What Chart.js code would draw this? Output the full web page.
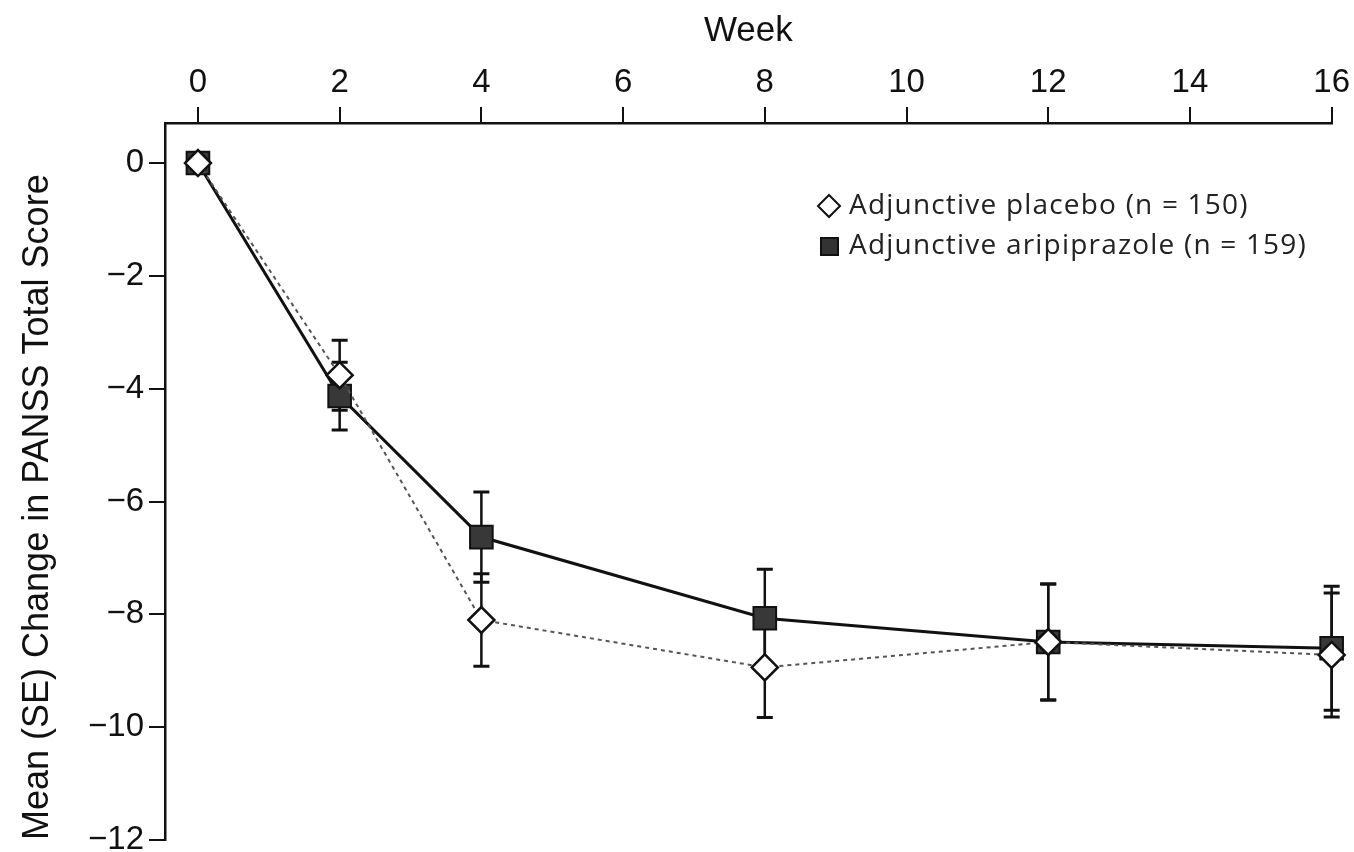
<!DOCTYPE html>
<html>
<head>
<meta charset="utf-8">
<title>PANSS</title>
<script src="https://cdn.jsdelivr.net/npm/chart.js@4"></script>
<style>
    html, body { margin: 0; padding: 0; background: #fff; }
    #box { position: relative; width: 1354px; height: 852px; }
</style>
</head>
<body>
<div id="box"><canvas id="grafico" width="1354" height="852"></canvas></div>
<script>
// dati
var settimane = [0, 2, 4, 8, 12, 16];
var placebo = [0, -3.76, -8.1, -8.94, -8.49, -8.72];
var placeboSE = [0, 0.62, 0.82, 0.89, 1.03, 1.1];
var aripiprazolo = [0, -4.13, -6.63, -8.07, -8.49, -8.6];
var aripiprazoloSE = [0, 0.6, 0.8, 0.87, 1.03, 1.1];

var tickSettimane = [0, 2, 4, 6, 8, 10, 12, 14, 16];
var tickPunteggio = [0, -2, -4, -6, -8, -10, -12];
var etichette = ['Adjunctive placebo (n = 150)', 'Adjunctive aripiprazole (n = 159)'];

function punti(valori) {
    var out = [];
    for (var i = 0; i < settimane.length; i++) {
        out.push({ x: settimane[i], y: valori[i] });
    }
    return out;
}

// barre di errore (SE), disegnate prima dei punti
var barreErrore = {
    id: 'barreErrore',
    beforeDatasetsDraw: function (chart) {
        var ctx = chart.ctx;
        var sx = chart.scales.x;
        var sy = chart.scales.y;
        var serie = [[aripiprazolo, aripiprazoloSE], [placebo, placeboSE]];
        ctx.save();
        ctx.strokeStyle = '#111';
        for (var s = 0; s < serie.length; s++) {
            var val = serie[s][0];
            var se = serie[s][1];
            for (var i = 0; i < settimane.length; i++) {
                if (!se[i]) continue;
                var px = sx.getPixelForValue(settimane[i]);
                var top = sy.getPixelForValue(val[i] + se[i]);
                var bot = sy.getPixelForValue(val[i] - se[i]);
                ctx.lineWidth = 2.5;
                ctx.beginPath();
                ctx.moveTo(px, top);
                ctx.lineTo(px, bot);
                ctx.stroke();
                ctx.lineWidth = 3;
                ctx.beginPath();
                ctx.moveTo(px - 8, top);
                ctx.lineTo(px + 8, top);
                ctx.moveTo(px - 8, bot);
                ctx.lineTo(px + 8, bot);
                ctx.stroke();
            }
        }
        ctx.restore();
    }
};

// legenda dentro l'area del grafico
var legenda = {
    id: 'legenda',
    afterDraw: function (chart) {
        var ctx = chart.ctx;
        ctx.save();
        ctx.strokeStyle = '#111';
        ctx.lineWidth = 2;
        ctx.fillStyle = '#fff';
        ctx.beginPath();
        ctx.moveTo(829, 195);
        ctx.lineTo(840, 206);
        ctx.lineTo(829, 217);
        ctx.lineTo(818, 206);
        ctx.closePath();
        ctx.fill();
        ctx.stroke();
        ctx.fillStyle = '#333';
        ctx.fillRect(821, 238, 17, 17);
        ctx.strokeRect(821, 238, 17, 17);
        ctx.fillStyle = '#222';
        ctx.font = '28px "Open Sans"';
        ctx.letterSpacing = '1.2px';
        ctx.textBaseline = 'middle';
        ctx.fillText(etichette[0], 849, 206);
        ctx.fillText(etichette[1], 849, 246);
        ctx.restore();
    }
};

var ctx = document.getElementById('grafico');
var chart = new Chart(ctx, {
    type: 'line',
    data: {
        datasets: [{
            label: etichette[0],
            data: punti(placebo),
            borderColor: '#555',
            borderWidth: 2,
            borderDash: [4, 4],
            pointStyle: 'rectRot',
            pointRadius: 13,
            pointBackgroundColor: '#fff',
            pointBorderColor: '#111',
            pointBorderWidth: 2.5,
            clip: false
        }, {
            label: etichette[1],
            data: punti(aripiprazolo),
            borderColor: '#111',
            borderWidth: 3,
            pointStyle: 'rect',
            pointRadius: 16,
            pointBackgroundColor: '#383838',
            pointBorderColor: '#111',
            pointBorderWidth: 2,
            clip: false
        }]
    },
    options: {
        responsive: false,
        animation: false,
        devicePixelRatio: 1,
        layout: { autoPadding: false, padding: { right: 21, bottom: 12 } },
        plugins: {
            legend: { display: false },
            tooltip: { enabled: false }
        },
        scales: {
            x: {
                type: 'linear',
                position: 'top',
                min: -0.465,
                max: 16,
                afterBuildTicks: function (s) {
                    s.ticks = tickSettimane.map(function (v) { return { value: v }; });
                },
                afterFit: function (s) { s.height = 123; },
                grid: { drawOnChartArea: false, drawTicks: true, tickLength: 16, color: '#111', lineWidth: 2 },
                border: { color: '#111', width: 2.5 },
                ticks: { color: '#111', padding: 4, maxRotation: 0, font: { family: 'Liberation Sans', size: 33 } },
                title: {
                    display: true,
                    text: 'Week',
                    color: '#111',
                    font: { family: 'Liberation Sans', size: 35 },
                    padding: { top: 10, bottom: 0 }
                }
            },
            y: {
                min: -12,
                max: 0.71,
                afterBuildTicks: function (s) {
                    s.ticks = tickPunteggio.map(function (v) { return { value: v }; });
                },
                afterFit: function (s) {
                    s.width = 165;
                    s.paddingTop = 0;
                    s.paddingBottom = 0;
                },
                grid: { drawOnChartArea: false, drawTicks: true, tickLength: 16, color: '#111', lineWidth: 2 },
                border: { color: '#111', width: 2.5 },
                ticks: {
                    color: '#111',
                    padding: 5,
                    font: { family: 'Liberation Sans', size: 33 },
                    callback: function (v) { return v < 0 ? '\u2212' + Math.abs(v) : '' + v; }
                },
                title: {
                    display: true,
                    align: 'start',
                    text: 'Mean (SE) Change in PANSS Total Score',
                    color: '#111',
                    font: { family: 'Liberation Sans', size: 36 },
                    padding: { top: 16, bottom: 0 }
                }
            }
        }
    },
    plugins: [barreErrore, legenda]
});
</script>
</body>
</html>
